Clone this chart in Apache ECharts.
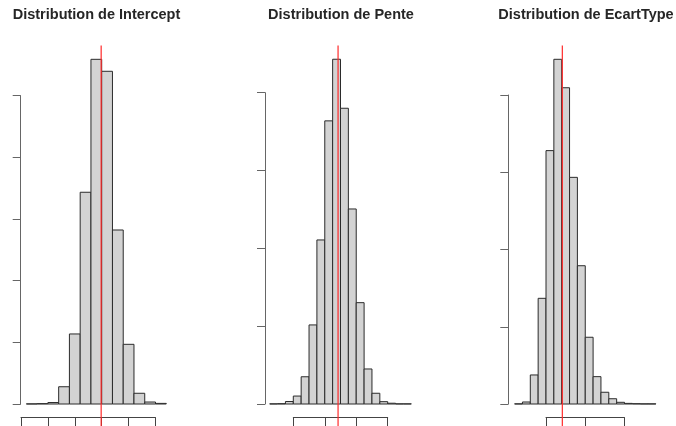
<!DOCTYPE html>
<html><head><meta charset="utf-8">
<script src="https://cdn.jsdelivr.net/npm/echarts@6/dist/echarts.min.js"></script>
<style>html,body{margin:0;padding:0;background:#fff}#c{width:676px;height:426px}</style>
</head><body><div id="c"></div>
<script>
// ---------- data ----------
const titles = ["Distribution de Intercept", "Distribution de Pente", "Distribution de EcartType"];

const interceptBreaks = [1, 3, 5, 7, 9, 11, 13, 15, 17, 19, 21, 23, 25, 27];
const interceptCounts = [1, 3, 12, 140, 568, 1717, 2795, 2698, 1411, 484, 87, 16, 5];
const interceptRef = 14.9;
const interceptXTicks = [0, 5, 10, 15, 20, 25];
const interceptYTicks = [0, 500, 1000, 1500, 2000, 2500];

const penteBreaks = [-3, -2, -1, 0, 1, 2, 3, 4, 5, 6, 7, 8, 9, 10, 11, 12, 13, 14, 15];
const penteCounts = [1, 2, 16, 51, 175, 508, 1054, 1819, 2215, 1900, 1253, 651, 225, 69, 15, 5, 1, 1];
const penteRef = 5.69;
const penteXTicks = [0, 4, 8, 12];
const penteYTicks = [0, 500, 1000, 1500, 2000];

const ecartBreaks = [-4, -3, -2, -1, 0, 1, 2, 3, 4, 5, 6, 7, 8, 9, 10, 11, 12, 13, 14];
const ecartCounts = [1, 13, 188, 684, 1640, 2231, 2047, 1467, 895, 432, 177, 76, 34, 11, 4, 2, 1, 1];
const ecartRef = 2.08;
const ecartXTicks = [0, 5, 10];
const ecartYTicks = [0, 500, 1000, 1500, 2000];

// ---------- layout ----------
const panels = [
  {breaks: interceptBreaks, counts: interceptCounts, ref: interceptRef, xt: interceptXTicks, yt: interceptYTicks,
   grid: {left: 21, right: 520.5, top: 95.7, bottom: 22}, yOffset: 0.3, titleX: 96.5},
  {breaks: penteBreaks, counts: penteCounts, ref: penteRef, xt: penteXTicks, yt: penteYTicks,
   grid: {left: 293.3, right: 288.3, top: 92.7, bottom: 22}, yOffset: 28.3, titleX: 341},
  {breaks: ecartBreaks, counts: ecartCounts, ref: ecartRef, xt: ecartXTicks, yt: ecartYTicks,
   grid: {left: 546, right: 51.5, top: 95, bottom: 22}, yOffset: 37.7, titleX: 586}
];

const axisColor = '#444';
const option = {
  animation: false,
  backgroundColor: '#fff',
  title: [], grid: [], xAxis: [], yAxis: [], series: []
};

panels.forEach((p, i) => {
  option.title.push({
    text: titles[i], left: p.titleX, top: 7, textAlign: 'center', padding: 0,
    textStyle: {fontFamily: 'Liberation Sans, Arial, sans-serif', fontSize: 14.5, fontWeight: 'bold', color: '#262626'}
  });
  option.grid.push(Object.assign({containLabel: false}, p.grid));
  const xs = p.xt;
  option.xAxis.push({
    type: 'value', gridIndex: i, min: xs[0], max: xs[xs.length - 1], interval: xs[1] - xs[0],
    position: 'bottom', offset: 13.7,
    axisLine: {show: true, onZero: false, lineStyle: {color: axisColor, width: 1}},
    axisTick: {show: true, inside: false, length: 9, lineStyle: {color: axisColor, width: 1}},
    axisLabel: {show: false}, splitLine: {show: false}
  });
  const ys = p.yt;
  option.yAxis.push({
    type: 'value', gridIndex: i, min: ys[0], max: ys[ys.length - 1], interval: ys[1] - ys[0],
    position: 'left', offset: p.yOffset,
    axisLine: {show: true, onZero: false, lineStyle: {color: '#666', width: 1}},
    axisTick: {show: true, inside: false, length: 8, lineStyle: {color: '#666', width: 1}},
    axisLabel: {show: false}, splitLine: {show: false}
  });
  const bins = p.counts.map((c, k) => [p.breaks[k], p.breaks[k + 1], c]);
  option.series.push({
    type: 'custom', xAxisIndex: i, yAxisIndex: i, clip: false,
    encode: {x: [0, 1], y: [2]},
    data: bins,
    renderItem: function (params, api) {
      const p0 = api.coord([api.value(0), api.value(2)]);
      const p1 = api.coord([api.value(1), 0]);
      return {
        type: 'rect',
        shape: {x: p0[0], y: p0[1], width: p1[0] - p0[0], height: p1[1] - p0[1]},
        style: {fill: '#d3d3d3', stroke: '#2b2b2b', lineWidth: 1}
      };
    }
  });
  const maxC = Math.max.apply(null, p.counts);
  const yMaxTick = ys[ys.length - 1];
  option.series.push({
    type: 'custom', xAxisIndex: i, yAxisIndex: i, clip: false, z: 5,
    encode: {x: 0, y: [1, 2]},
    data: [[p.ref, maxC * 1.04, -yMaxTick * 0.3]],
    renderItem: function (params, api) {
      const a = api.coord([api.value(0), api.value(1)]);
      const b = api.coord([api.value(0), api.value(2)]);
      return {
        type: 'line',
        shape: {x1: a[0], y1: a[1], x2: b[0], y2: b[1]},
        style: {stroke: '#ff2a2a', lineWidth: 1.2}
      };
    }
  });
});

const chart = echarts.init(document.getElementById('c'), null, {renderer: 'canvas'});
chart.setOption(option);
</script>
</body></html>
